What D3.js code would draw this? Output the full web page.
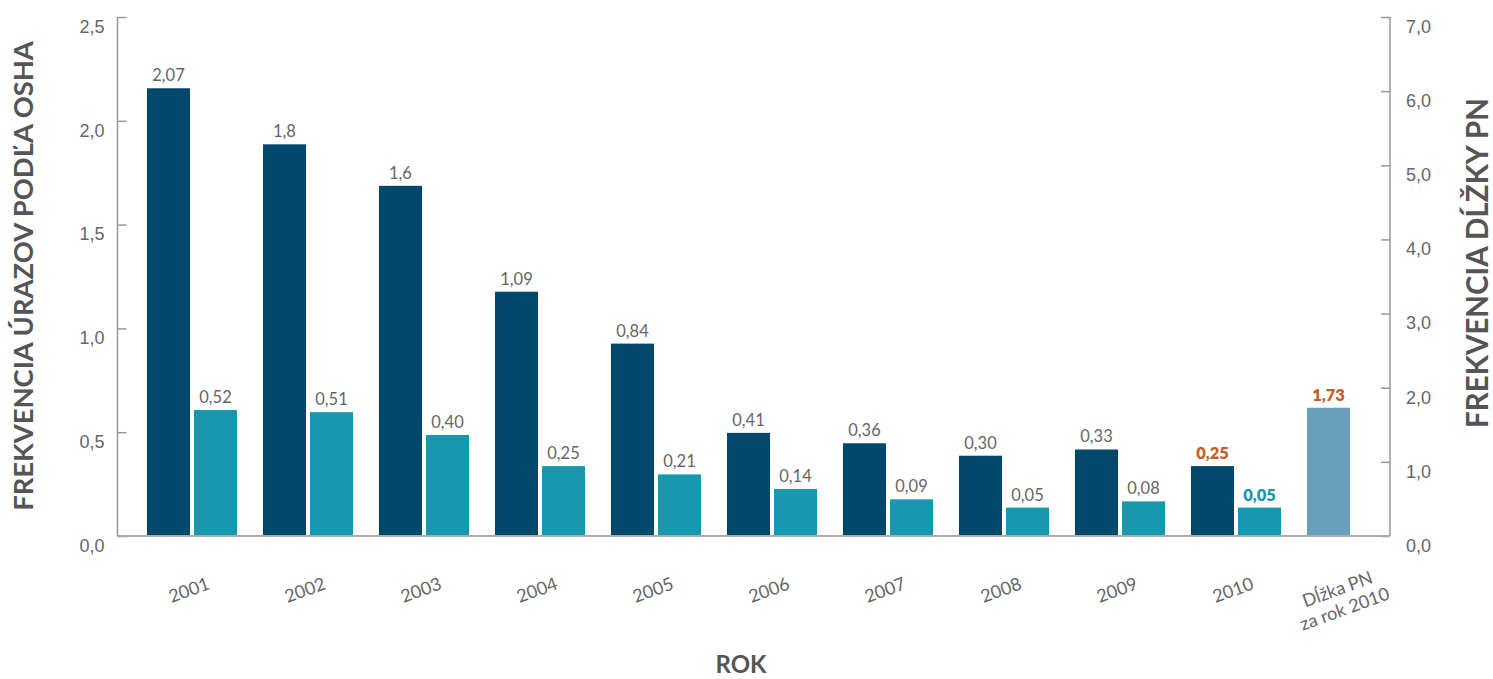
<!DOCTYPE html>
<html>
<head>
<meta charset="utf-8">
<script src="https://cdn.jsdelivr.net/npm/d3@7/dist/d3.min.js"></script>
<style>
  body { margin: 0; background: #fff; }
  svg { display: block; font-family: Lato, "Open Sans", sans-serif; }
</style>
</head>
<body>
<svg id="chart" width="1493" height="679"></svg>
<script>
// ---- data ----
const categories = ["2001","2002","2003","2004","2005","2006","2007","2008","2009","2010","Dĺžka PN za rok 2010"];
const years = ["2001","2002","2003","2004","2005","2006","2007","2008","2009","2010"];
const seriesDark  = [2.07, 1.8, 1.6, 1.09, 0.84, 0.41, 0.36, 0.30, 0.33, 0.25];
const labelsDark  = ["2,07","1,8","1,6","1,09","0,84","0,41","0,36","0,30","0,33","0,25"];
const seriesLight = [0.52, 0.51, 0.40, 0.25, 0.21, 0.14, 0.09, 0.05, 0.08, 0.05];
const labelsLight = ["0,52","0,51","0,40","0,25","0,21","0,14","0,09","0,05","0,08","0,05"];
const secondaryValue = [1.73];
const secondaryLabel = ["1,73"];
const leftTicks  = [0, 0.5, 1.0, 1.5, 2.0, 2.5];
const rightTicks = [0, 1, 2, 3, 4, 5, 6, 7];
const xLabelLines = [["2001"],["2002"],["2003"],["2004"],["2005"],["2006"],["2007"],["2008"],["2009"],["2010"],["Dĺžka PN","za rok 2010"]];

(function () {
// ---- layout ----
const svg = d3.select("#chart");
const pL = 117.5, pR = 1390, pT = 17, pB = 536;
const gray = "#666";
const cDark = "#02486d", cLight = "#1698ae", cSec = "#6a9fbc", cOrange = "#c55f27";

const x = d3.scaleBand().domain(categories).range([pL + 0.5, pL + 0.5 + 116 * categories.length]);
const xSub = d3.scaleBand().domain(["dark","light"]).range([29, 119]).paddingInner(2 - 90 / 47);
const yLeft = d3.scaleLinear().domain([0, 2.5]).range([pB, pT]);
const yLeftBars = d3.scaleLinear().domain([0, 2.5]).range([pB - 18, pT - 18]);
const yRight = d3.scaleLinear().domain([0, 7]).range([pB, pT]);

// ---- axes ----
const fmt = d => d.toFixed(1).replace(".", ",");
const gL = svg.append("g").attr("transform", `translate(${pL},0)`)
  .call(d3.axisRight(yLeft).tickValues(leftTicks).tickSize(9).tickFormat(fmt));
gL.select(".domain").attr("stroke", "#999").attr("stroke-width", 1.5).attr("d", `M0,${pT}V${pB}`);
gL.selectAll(".tick line").attr("stroke", "#999").attr("stroke-width", 1.5);
gL.selectAll(".tick text").attr("x", -13).attr("dy", "0.85em").attr("text-anchor", "end")
  .attr("fill", gray).attr("font-size", 18).attr("font-weight", 300);

const gR = svg.append("g").attr("transform", `translate(${pR},0)`)
  .call(d3.axisLeft(yRight).tickValues(rightTicks).tickSize(9).tickFormat(fmt));
gR.select(".domain").attr("stroke", "#999").attr("stroke-width", 1.5).attr("d", `M0,${pT}V${pB}`);
gR.selectAll(".tick line").attr("stroke", "#999").attr("stroke-width", 1.5);
gR.selectAll(".tick text").attr("x", 16).attr("dy", "0.85em").attr("text-anchor", "start")
  .attr("fill", gray).attr("font-size", 18).attr("font-weight", 300);

// ---- bars ----
const bars = svg.append("g");
bars.selectAll("rect.dark").data(years).join("rect").attr("class","dark")
  .attr("x", (d) => x(d) + xSub("dark")).attr("width", xSub.bandwidth())
  .attr("y", (d,i) => yLeftBars(seriesDark[i])).attr("height", (d,i) => pB - yLeftBars(seriesDark[i]))
  .attr("fill", cDark);
bars.selectAll("rect.light").data(years).join("rect").attr("class","light")
  .attr("x", (d) => x(d) + xSub("light")).attr("width", xSub.bandwidth())
  .attr("y", (d,i) => yLeftBars(seriesLight[i])).attr("height", (d,i) => pB - yLeftBars(seriesLight[i]))
  .attr("fill", cLight);
const secCat = categories[categories.length - 1];
bars.selectAll("rect.sec").data(secondaryValue).join("rect").attr("class","sec")
  .attr("x", x(secCat) + xSub("dark")).attr("width", xSub.bandwidth())
  .attr("y", d => yRight(d)).attr("height", d => pB - yRight(d))
  .attr("fill", cSec);

// baseline
svg.append("line").attr("x1", pL).attr("x2", pR).attr("y1", pB).attr("y2", pB)
  .attr("stroke", "#aaa").attr("stroke-width", 2);

// ---- value labels ----
const lab = svg.append("g").attr("text-anchor", "middle").attr("font-size", 16.5);
const last = years.length - 1;
lab.selectAll("text.ld").data(years).join("text").attr("class","ld")
  .attr("x", d => x(d) + xSub("dark") + xSub.bandwidth() / 2)
  .attr("y", (d,i) => yLeftBars(seriesDark[i]) - 7)
  .attr("fill", (d,i) => i === last ? cOrange : gray)
  .attr("font-weight", (d,i) => i === last ? 800 : 400)
  .text((d,i) => labelsDark[i]);
lab.selectAll("text.ll").data(years).join("text").attr("class","ll")
  .attr("x", d => x(d) + xSub("light") + xSub.bandwidth() / 2)
  .attr("y", (d,i) => yLeftBars(seriesLight[i]) - 7)
  .attr("fill", (d,i) => i === last ? cLight : gray)
  .attr("font-weight", (d,i) => i === last ? 800 : 400)
  .text((d,i) => labelsLight[i]);
lab.selectAll("text.ls").data(secondaryValue).join("text").attr("class","ls")
  .attr("x", x(secCat) + xSub("dark") + xSub.bandwidth() / 2)
  .attr("y", d => yRight(d) - 7)
  .attr("fill", cOrange).attr("font-weight", 800)
  .text((d,i) => secondaryLabel[i]);

// ---- x labels ----
const xl = svg.append("g").attr("font-size", 18).attr("fill", gray).attr("text-anchor", "middle");
xl.selectAll("text").data(categories).join("text")
  .attr("transform", (d,i) => {
    const cx = x(d) + (i === categories.length - 1 ? 63 : 71);
    const cy = i === categories.length - 1 ? 599 : 590;
    return `translate(${cx},${cy}) rotate(-20)`;
  })
  .each(function(d,i) {
    const lines = xLabelLines[i];
    const t = d3.select(this);
    lines.forEach((ln, j) => {
      t.append("tspan").attr("x", 0)
        .attr("y", (j - (lines.length - 1) / 2) * 21)
        .attr("dy", "0.35em").text(ln);
    });
  });

// ---- axis titles ----
function fitTitle(sel, target) {
  const len = sel.node().getComputedTextLength();
  const fs = parseFloat(sel.attr("font-size"));
  sel.attr("font-size", fs * target / len);
}
const tL = svg.append("text").attr("transform", "translate(33,276) rotate(-90)")
  .attr("text-anchor", "middle").attr("font-size", 27).attr("font-weight", 700).attr("fill", "#555")
  .text("FREKVENCIA ÚRAZOV PODĽA OSHA");
fitTitle(tL, 470);
const tR = svg.append("text").attr("transform", "translate(1488,263) rotate(-90)")
  .attr("text-anchor", "middle").attr("font-size", 27).attr("font-weight", 700).attr("fill", "#555")
  .text("FREKVENCIA DĹŽKY PN");
fitTitle(tR, 330);
svg.append("text").attr("x", 741).attr("y", 673).attr("text-anchor", "middle")
  .attr("font-size", 24).attr("font-weight", 700).attr("fill", "#555").text("ROK");
})();
</script>
</body>
</html>
